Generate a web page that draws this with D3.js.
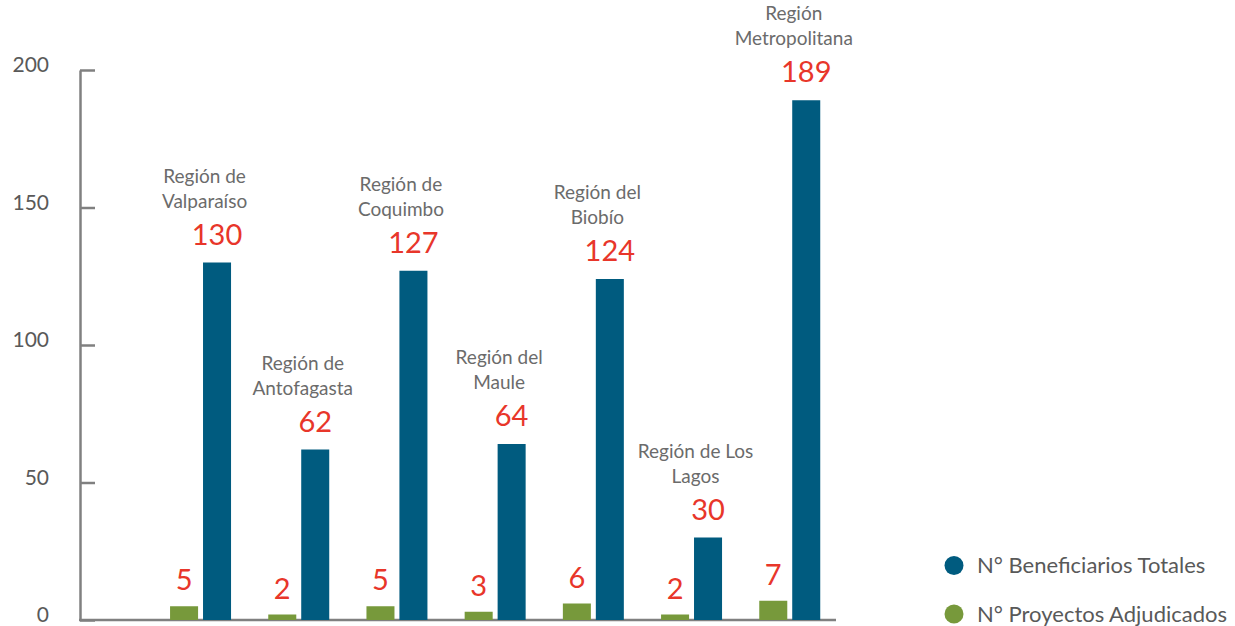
<!DOCTYPE html>
<meta charset="utf-8">
<style>
body { margin: 0; background: #fff; }
svg text { font-family: "Gill Sans", Lato, "Open Sans", sans-serif; }
.axis path, .axis line { stroke: #808080; stroke-width: 2.5px; }
.axis text { fill: #595959; font-size: 21px; }
.region { fill: #6b6b6b; font-size: 19px; }
.val { fill: #e8362a; font-size: 29px; }
.legend text { fill: #595959; font-size: 22px; }
</style>
<body>
<svg width="1235" height="626"></svg>
<script src="https://d3js.org/d3.v7.min.js"></script>
<script>

var regions = [
  ["Región de", "Valparaíso"],
  ["Región de", "Antofagasta"],
  ["Región de", "Coquimbo"],
  ["Región del", "Maule"],
  ["Región del", "Biobío"],
  ["Región de Los", "Lagos"],
  ["Región", "Metropolitana"]
];
var beneficiarios = [130, 62, 127, 64, 124, 30, 189];
var proyectos = [5, 2, 5, 3, 6, 2, 7];
var yTicks = [0, 50, 100, 150, 200];
var seriesNames = ["N° Beneficiarios Totales", "N° Proyectos Adjudicados"];
var colors = ["#005b7f", "#77993b"];

var svg = d3.select("svg");

var y = d3.scaleLinear().domain([0, 200]).range([620, 70]);

var x = d3.scaleBand()
    .domain(d3.range(regions.length))
    .range([151.4, 838.9])
    .paddingInner(0.379)
    .paddingOuter(0.19);

var sub = d3.scaleBand()
    .domain([1, 0])   // green first, then blue
    .range([0, x.bandwidth()])
    .paddingInner(0.15);

// y axis
var yAxis = svg.append("g")
    .attr("class", "axis")
    .attr("transform", "translate(80,0)")
    .call(d3.axisLeft(y).tickValues(yTicks).tickSizeInner(-15).tickSizeOuter(0).tickPadding(31));
yAxis.selectAll("text").attr("dy", "0.08em");

// baseline
svg.append("line")
    .attr("x1", 79).attr("x2", 836)
    .attr("y1", y(0)).attr("y2", y(0))
    .style("stroke", "#808080").style("stroke-width", 2.5);

var groups = svg.append("g").selectAll("g")
    .data(regions)
    .join("g")
    .attr("transform", function(d, i) { return "translate(" + x(i) + ",0)"; });

// green bars
groups.append("rect")
    .attr("x", sub(1))
    .attr("width", sub.bandwidth())
    .attr("y", function(d, i) { return y(proyectos[i]); })
    .attr("height", function(d, i) { return y(0) - y(proyectos[i]); })
    .attr("fill", colors[1]);

// blue bars
groups.append("rect")
    .attr("x", sub(0))
    .attr("width", sub.bandwidth())
    .attr("y", function(d, i) { return y(beneficiarios[i]); })
    .attr("height", function(d, i) { return y(0) - y(beneficiarios[i]); })
    .attr("fill", colors[0]);

// value labels
groups.append("text")
    .attr("class", "val")
    .attr("text-anchor", "middle")
    .attr("x", sub(1) + sub.bandwidth() / 2)
    .attr("y", function(d, i) { return y(proyectos[i]) - 16; })
    .text(function(d, i) { return proyectos[i]; });

groups.append("text")
    .attr("class", "val")
    .attr("text-anchor", "middle")
    .attr("x", sub(0) + sub.bandwidth() / 2)
    .attr("y", function(d, i) { return y(beneficiarios[i]) - 18; })
    .text(function(d, i) { return beneficiarios[i]; });

// region names
var rl = groups.append("text")
    .attr("class", "region")
    .attr("text-anchor", "middle")
    .attr("y", function(d, i) { return y(beneficiarios[i]) - 18 - 37 - 25; });
rl.selectAll("tspan")
    .data(function(d) { return d; })
    .join("tspan")
    .attr("x", x.bandwidth() / 2 + 4)
    .attr("dy", function(d, j) { return j ? 25 : 0; })
    .text(function(d) { return d; });

// legend
var legend = svg.append("g").attr("class", "legend")
    .selectAll("g")
    .data(seriesNames)
    .join("g")
    .attr("transform", function(d, i) { return "translate(954," + (565.5 + i * 48.5) + ")"; });
legend.append("circle").attr("r", 9.5).attr("fill", function(d, i) { return colors[i]; });
legend.append("text").attr("x", 23).attr("y", 7.5).text(function(d) { return d; });

</script>
</body>
